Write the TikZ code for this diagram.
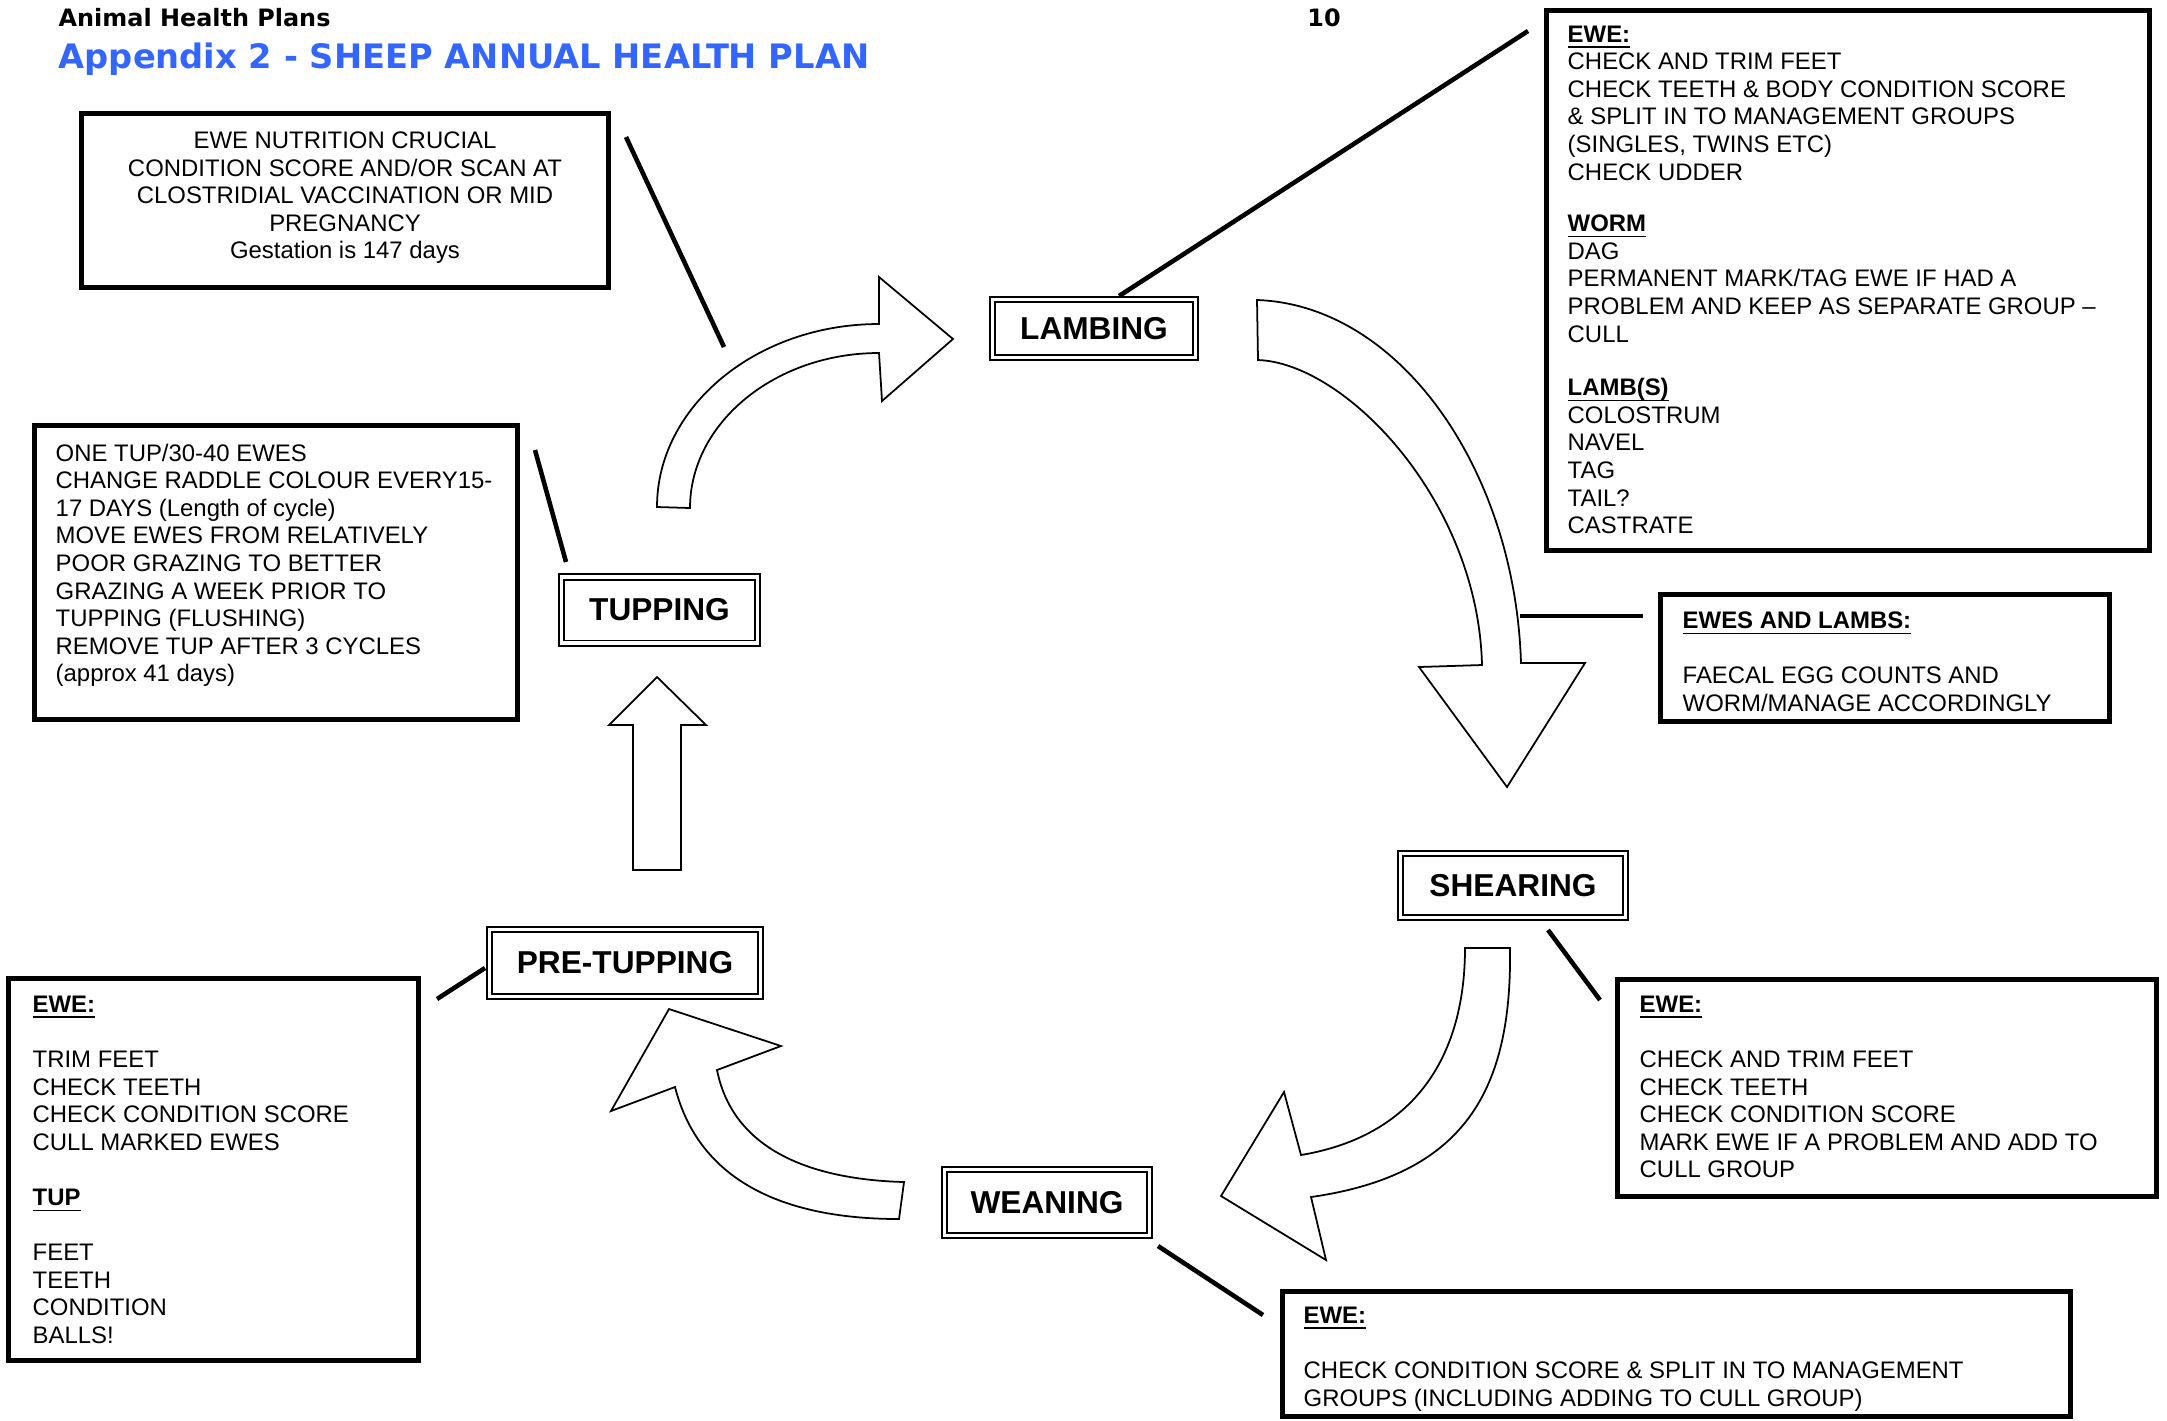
\documentclass[tikz,border=0pt]{standalone}
\usepackage{fontspec}
\setmainfont{Liberation Sans}
\newfontfamily\headfont{DejaVu Sans}
\definecolor{titleblue}{RGB}{51,102,255}
\tikzset{
  notebox/.style={draw, line width=1.4pt, fill=white, inner sep=0pt},
  stagebox/.style={draw, double, double distance=0.9pt, line width=0.55pt, fill=white, inner sep=0pt,
    font=\fontsize{9}{10}\selectfont\bfseries},
  notetext/.style={inner sep=0pt, align=left, anchor=north west, font=\fontsize{6.8}{7.85}\selectfont},
  blockarrow/.style={draw, fill=white, line width=0.5pt, line join=miter},
  connector/.style={line width=1.3pt},
}
\newcommand{\hd}[1]{\underline{\raisebox{0pt}[\height][0pt]{\textbf{#1}}}}
\begin{document}
\begin{tikzpicture}[x=0.01cm, y=-0.01cm]
\useasboundingbox[fill=white] (0,0) rectangle (2167,1420);

% header
\node[anchor=base west, inner sep=0pt, font=\headfont\bfseries\fontsize{6.8}{8}\selectfont] (hdr) at (58,26) {Animal Health Plans};
\node[anchor=base, inner sep=0pt, font=\headfont\bfseries\fontsize{6.8}{8}\selectfont] (pg) at (1324,26) {10};
\node[anchor=base west, inner sep=0pt, text=titleblue, font=\headfont\bfseries\fontsize{9.58}{11}\selectfont] (title) at (58,68) {Appendix 2 - SHEEP ANNUAL HEALTH PLAN};

% block arrows
\draw[blockarrow] (657,507) .. controls (657,406) and (757,324) .. (879,324) -- (879,277) -- (953,339) -- (882,401) -- (879,353) .. controls (775,353) and (690,423) .. (690,508) -- cycle;
\draw[blockarrow] (1257,300) .. controls (1400,305) and (1515,470) .. (1521,663) -- (1585,663) -- (1507,787) -- (1419,667) -- (1482,665) .. controls (1478,500) and (1345,363) .. (1258,360) -- cycle;
\draw[blockarrow] (1465,948) -- (1510,948) .. controls (1512,1090) and (1465,1175) .. (1311,1197) -- (1326,1260) -- (1221,1196) -- (1284,1092) -- (1301,1155) .. controls (1420,1135) and (1465,1050) .. (1465,948) -- cycle;
\draw[blockarrow] (904,1182) -- (899,1219) .. controls (790,1219) and (700,1185) .. (675,1087) -- (611,1111) -- (669,1009) -- (781,1046) -- (717,1070) .. controls (735,1160) and (830,1180) .. (904,1182) -- cycle;
\draw[blockarrow] (633,870) -- (633,725) -- (609,725) -- (657,677) -- (706,725) -- (681,725) -- (681,870) -- cycle;

% stage boxes
\node[stagebox, minimum width=2.03cm, minimum height=0.58cm] (lamb) at (1094,328.5) {LAMBING};
\node[stagebox, minimum width=1.96cm, minimum height=0.66cm] (tup) at (659.5,610) {TUPPING};
\node[stagebox, minimum width=2.25cm, minimum height=0.64cm] (shear) at (1513,885.5) {SHEARING};
\node[stagebox, minimum width=2.71cm, minimum height=0.67cm] (pretup) at (625,963) {PRE-TUPPING};
\node[stagebox, minimum width=2.05cm, minimum height=0.66cm] (wean) at (1047,1202.5) {WEANING};

% note boxes
\node[notebox, minimum width=5.27cm, minimum height=1.74cm] (nut) at (345,200.5) {};
\node[notebox, minimum width=4.83cm, minimum height=2.94cm] (tupn) at (276,572.5) {};
\node[notebox, minimum width=6.03cm, minimum height=5.40cm] (lambn) at (1848,280.5) {};
\node[notebox, minimum width=4.49cm, minimum height=1.27cm] (ewl) at (1885,658) {};
\node[notebox, minimum width=5.39cm, minimum height=2.17cm] (shn) at (1887,1088) {};
\node[notebox, minimum width=7.88cm, minimum height=1.25cm] (wen) at (1676.5,1354) {};
\node[notebox, minimum width=4.10cm, minimum height=3.82cm] (ptn) at (213.5,1169.5) {};

% note texts
\node[notetext, anchor=north, align=center] (nutt) at (345,131) {EWE NUTRITION CRUCIAL\\CONDITION SCORE AND/OR SCAN AT\\CLOSTRIDIAL VACCINATION OR MID\\PREGNANCY\\Gestation is 147 days};
\node[notetext] (tupnt) at (55,443) {ONE TUP/30-40 EWES\\CHANGE RADDLE COLOUR EVERY15-\\17 DAYS (Length of cycle)\\MOVE EWES FROM RELATIVELY\\POOR GRAZING TO BETTER\\GRAZING A WEEK PRIOR TO\\TUPPING (FLUSHING)\\REMOVE TUP AFTER 3 CYCLES\\(approx 41 days)};
\node[notetext] (lambnt) at (1567,25) {\hd{EWE:}\\CHECK AND TRIM FEET\\CHECK TEETH \& BODY CONDITION SCORE\\\& SPLIT IN TO MANAGEMENT GROUPS\\(SINGLES, TWINS ETC)\\CHECK UDDER\\[6.8pt]\hd{WORM}\\DAG\\PERMANENT MARK/TAG EWE IF HAD A\\PROBLEM AND KEEP AS SEPARATE GROUP \textendash\\CULL\\[7.4pt]\hd{LAMB(S)}\\COLOSTRUM\\NAVEL\\TAG\\TAIL?\\CASTRATE};
\node[notetext] (ewlt) at (1682,611) {\hd{EWES AND LAMBS:}\\[7.85pt]FAECAL EGG COUNTS AND\\WORM/MANAGE ACCORDINGLY};
\node[notetext] (shnt) at (1639,995) {\hd{EWE:}\\[7.85pt]CHECK AND TRIM FEET\\CHECK TEETH\\CHECK CONDITION SCORE\\MARK EWE IF A PROBLEM AND ADD TO\\CULL GROUP};
\node[notetext] (went) at (1303,1306) {\hd{EWE:}\\[7.85pt]CHECK CONDITION SCORE \& SPLIT IN TO MANAGEMENT\\GROUPS (INCLUDING ADDING TO CULL GROUP)};
\node[notetext] (ptnt) at (32,995) {\hd{EWE:}\\[7.85pt]TRIM FEET\\CHECK TEETH\\CHECK CONDITION SCORE\\CULL MARKED EWES\\[7.85pt]\hd{TUP}\\[7.85pt]FEET\\TEETH\\CONDITION\\BALLS!};

% connectors
\coordinate (c1a) at (626,137); \coordinate (c1b) at (724,347);
\coordinate (c2a) at (1119,296); \coordinate (c2b) at (1528,31);
\coordinate (c3a) at (535,450); \coordinate (c3b) at (566,562);
\coordinate (c4a) at (1520,616); \coordinate (c4b) at (1643,616);
\coordinate (c5a) at (1548,930); \coordinate (c5b) at (1600,1000);
\coordinate (c6a) at (1158,1246); \coordinate (c6b) at (1263,1315);
\coordinate (c7a) at (437,999); \coordinate (c7b) at (485,968);
\draw[connector] (c1a) -- (c1b);
\draw[connector] (c2a) -- (c2b);
\draw[connector] (c3a) -- (c3b);
\draw[connector] (c4a) -- (c4b);
\draw[connector] (c5a) -- (c5b);
\draw[connector] (c6a) -- (c6b);
\draw[connector] (c7a) -- (c7b);
\end{tikzpicture}
\end{document}
